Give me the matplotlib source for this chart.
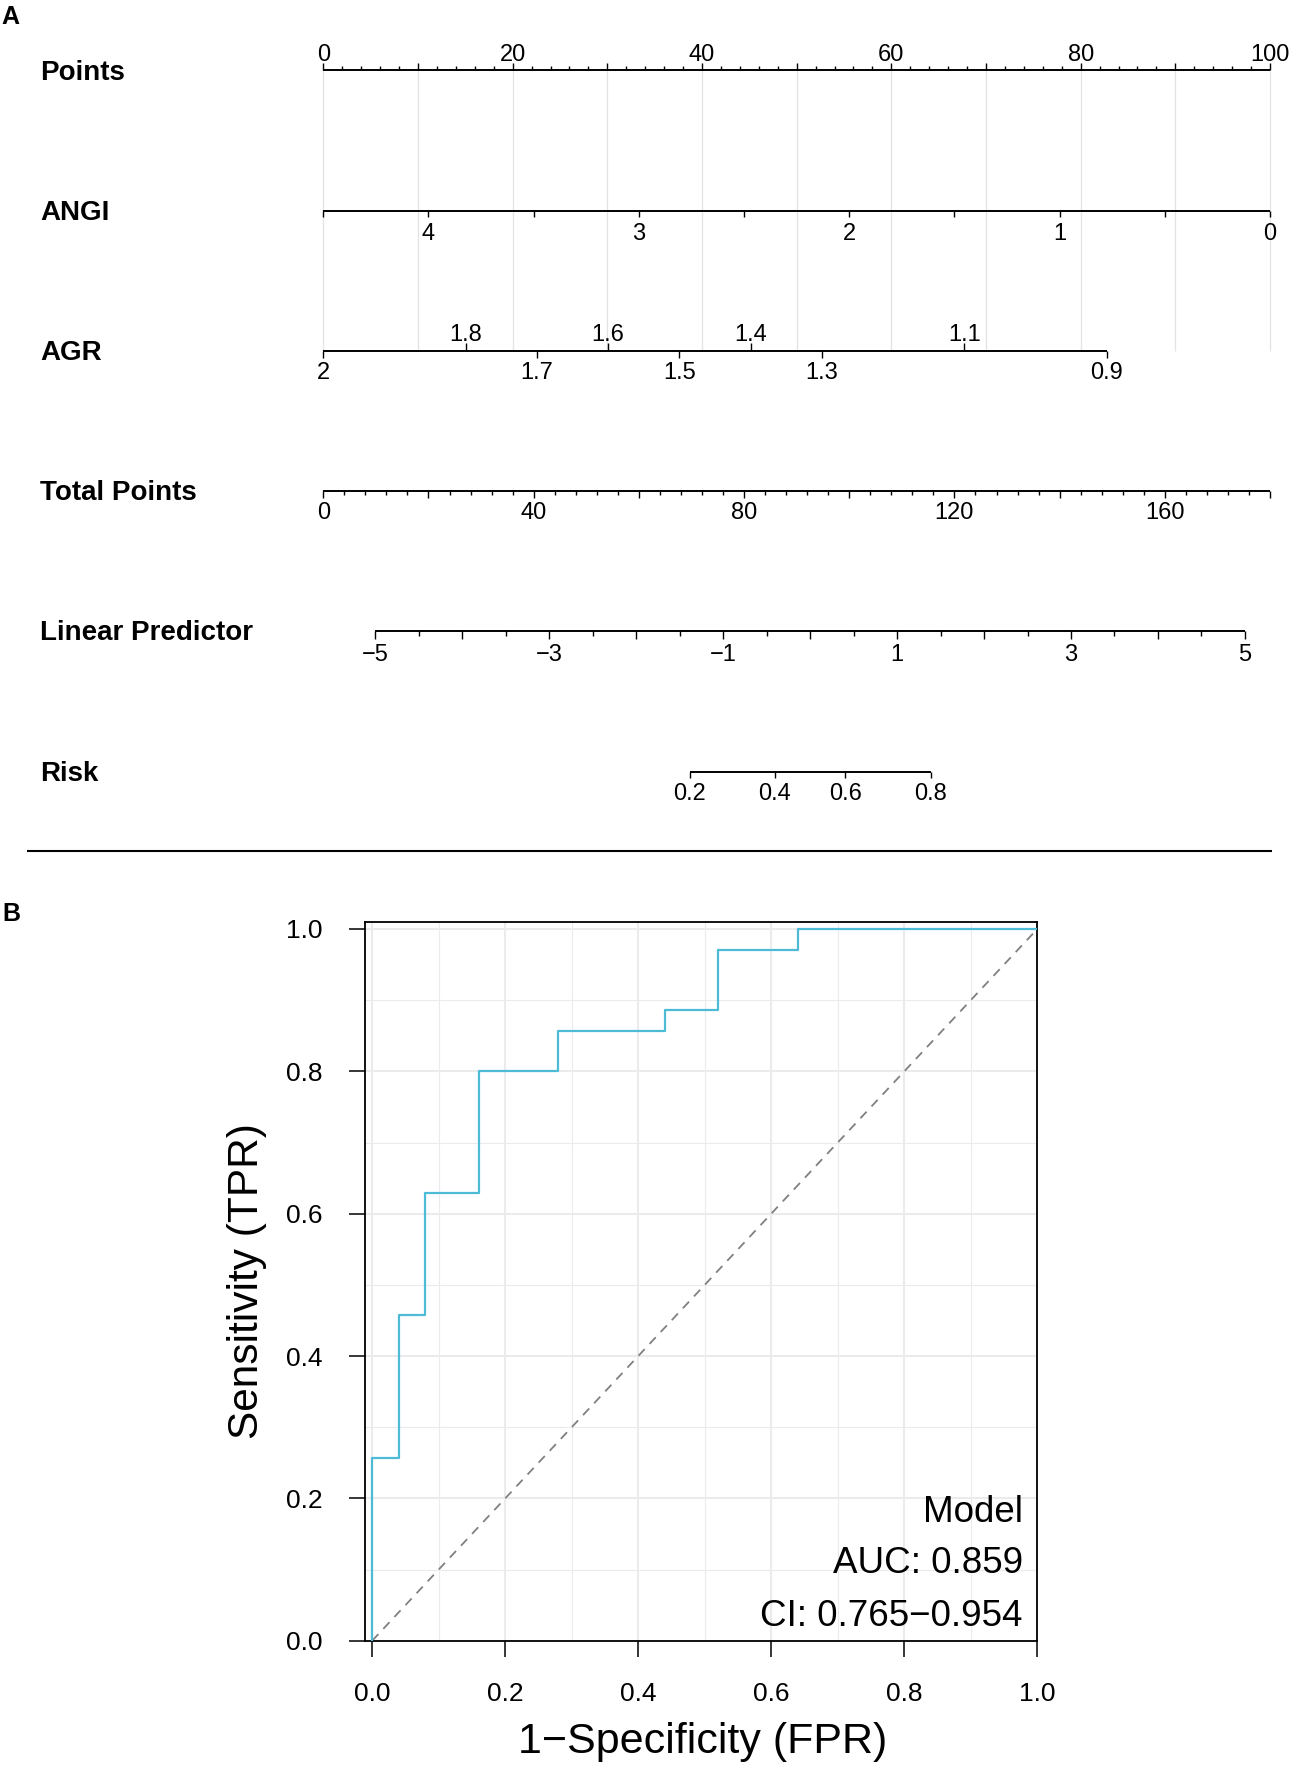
import numpy as np
import matplotlib
matplotlib.use('Agg')
import matplotlib.pyplot as plt

plt.rcParams['font.family'] = ['Liberation Sans', 'DejaVu Sans']

# ------------------------- data: nomogram model -------------------------
row_names = ['Points', 'ANGI', 'AGR', 'Total Points', 'Linear Predictor', 'Risk']
coef_intercept = 9.55
coef_angi = -1.344
coef_agr = -4.55
angi_range = [0.0, 4.5]
agr_range = [0.9, 2.0]

points_major = [0, 10, 20, 30, 40, 50, 60, 70, 80, 90, 100]
points_minor = [2, 4, 6, 8, 12, 14, 16, 18, 22, 24, 26, 28, 32, 34, 36, 38, 42, 44, 46, 48,
                52, 54, 56, 58, 62, 64, 66, 68, 72, 74, 76, 78, 82, 84, 86, 88, 92, 94, 96, 98]
points_labels = [0, 20, 40, 60, 80, 100]

angi_ticks = [4.5, 4, 3.5, 3, 2.5, 2, 1.5, 1, 0.5, 0]
angi_labels = [4, 3, 2, 1, 0]

agr_labels_above = [1.8, 1.6, 1.4, 1.1]
agr_labels_below = [2, 1.7, 1.5, 1.3, 0.9]

total_max = 180
total_major = [0, 20, 40, 60, 80, 100, 120, 140, 160, 180]
total_minor = [4, 8, 12, 16, 24, 28, 32, 36, 44, 48, 52, 56, 64, 68, 72, 76, 84, 88, 92, 96,
               104, 108, 112, 116, 124, 128, 132, 136, 144, 148, 152, 156, 164, 168, 172, 176]
total_labels = [0, 40, 80, 120, 160]

lp_range = [-5, 5]
lp_major = [-5, -4, -3, -2, -1, 0, 1, 2, 3, 4, 5]
lp_minor = [-4.5, -3.5, -2.5, -1.5, -0.5, 0.5, 1.5, 2.5, 3.5, 4.5]
lp_labels = [-5, -3, -1, 1, 3, 5]

risk_ticks = [0.2, 0.4, 0.6, 0.8]
risk_labels = ['0.2', '0.4', '0.6', '0.8']

# ------------------------- data: ROC curve -------------------------
roc_fpr = [0.0, 0.0, 0.04, 0.08, 0.16, 0.28, 0.44, 0.52, 0.64, 1.0]
roc_tpr = [0.0, 0.257, 0.457, 0.629, 0.800, 0.857, 0.886, 0.971, 1.0, 1.0]
roc_ticks = [0.0, 0.2, 0.4, 0.6, 0.8, 1.0]
roc_minor = [0.1, 0.3, 0.5, 0.7, 0.9]
roc_text = ['Model', 'AUC: 0.859', 'CI: 0.765\u22120.954']
roc_color = '#4DBBD5'

# ------------------------- scale functions -------------------------
c_angi = coef_angi * np.array(angi_range)
c_agr = coef_agr * np.array(agr_range)
min_angi, min_agr = c_angi.min(), c_agr.min()
pts_per_lp = 100.0 / max(np.ptp(c_angi), np.ptp(c_agr))
lp_at_zero = coef_intercept + min_angi + min_agr


def x_points(p):
    return np.asarray(p, dtype=float)


def x_angi(v):
    return (coef_angi * np.asarray(v, dtype=float) - min_angi) * pts_per_lp


def x_agr(v):
    return (coef_agr * np.asarray(v, dtype=float) - min_agr) * pts_per_lp


def x_total(tp):
    return np.asarray(tp, dtype=float) * 100.0 / total_max


def x_lp(lp):
    return x_total((np.asarray(lp, dtype=float) - lp_at_zero) * pts_per_lp)


def x_risk(p):
    p = np.asarray(p, dtype=float)
    return x_lp(np.log(p / (1 - p)))


def fmt(v):
    s = ('%g' % v)
    return s.replace('-', '\u2212')


# ------------------------- figure -------------------------
W, H = 1296, 1767
fig = plt.figure(figsize=(W / 100, H / 100), dpi=100)
fig.patch.set_facecolor('white')

PX0 = 323.3          # pixel x of 0 points
PX_PER_PT = 9.467    # pixels per point
axn = fig.add_axes([0, 0, 1, 1])
axn.set_xlim(-PX0 / PX_PER_PT, (W - PX0) / PX_PER_PT)
axn.set_ylim(H, 0)
axn.axis('off')

row_y = [70.3, 211.0, 350.7, 490.7, 630.7, 771.7]
LW_AX = 1.4
LW_TK = 1.0
TICK_FS = 17
lab_col = 'black'

# vertical light grid
axn.vlines(x_points(points_major), row_y[0], row_y[2], color='#E3E3E3', lw=0.9, zorder=1)

# row labels
for name, y in zip(row_names, row_y):
    axn.text(-PX0 / PX_PER_PT + 40 / PX_PER_PT, y + 9.5, name, fontsize=20,
             fontweight='bold', ha='left', va='baseline', color=lab_col)


def axis_line(x0, x1, y):
    axn.plot([x0, x1], [y, y], color='black', lw=LW_AX, solid_capstyle='butt', zorder=3)


def ticks(xs, y, length):
    axn.vlines(xs, y, y + length, color='black', lw=LW_TK, zorder=3)


# Points
y = row_y[0]
axis_line(x_points(0), x_points(100), y)
ticks(x_points(points_major), y, -7.7)
ticks(x_points(points_minor), y, -4.0)
for v in points_labels:
    axn.text(x_points(v), y - 9.3, fmt(v), fontsize=TICK_FS, ha='center', va='baseline')

# ANGI
y = row_y[1]
axis_line(x_angi(angi_range[1]), x_angi(angi_range[0]), y)
ticks(x_angi(angi_ticks), y, 6.3)
for v in angi_labels:
    axn.text(x_angi(v), y + 11.5, fmt(v), fontsize=TICK_FS, ha='center', va='top')

# AGR
y = row_y[2]
axis_line(x_agr(agr_range[1]), x_agr(agr_range[0]), y)
ticks(x_agr(agr_labels_above), y, -7.3)
ticks(x_agr(agr_labels_below), y, 7.3)
for v in agr_labels_above:
    axn.text(x_agr(v), y - 10.0, fmt(v), fontsize=TICK_FS, ha='center', va='baseline')
for v in agr_labels_below:
    axn.text(x_agr(v), y + 11.0, fmt(v), fontsize=TICK_FS, ha='center', va='top')

# Total points
y = row_y[3]
axis_line(x_total(0), x_total(total_max), y)
ticks(x_total(total_major), y, 7.7)
ticks(x_total(total_minor), y, 4.3)
for v in total_labels:
    axn.text(x_total(v), y + 11.0, fmt(v), fontsize=TICK_FS, ha='center', va='top')

# Linear predictor
y = row_y[4]
axis_line(x_lp(lp_range[0]), x_lp(lp_range[1]), y)
ticks(x_lp(lp_major), y, 8.3)
ticks(x_lp(lp_minor), y, 5.0)
for v in lp_labels:
    axn.text(x_lp(v), y + 13.0, fmt(v), fontsize=TICK_FS, ha='center', va='top')

# Risk
y = row_y[5]
axis_line(x_risk(risk_ticks[0]), x_risk(risk_ticks[-1]), y)
ticks(x_risk(risk_ticks), y, 6.7)
for v, s in zip(risk_ticks, risk_labels):
    axn.text(x_risk(v), y + 11.5, s, fontsize=TICK_FS, ha='center', va='top')

# panel letters and separator
px2x = lambda px: (px - PX0) / PX_PER_PT
axn.text(px2x(1), 24, 'A', fontsize=18, fontweight='bold', ha='left', va='baseline')
axn.text(px2x(2), 921, 'B', fontsize=18, fontweight='bold', ha='left', va='baseline')
axn.plot([px2x(26.7), px2x(1272)], [850.7, 850.7], color='black', lw=1.5,
         solid_capstyle='butt')

# ------------------------- ROC panel -------------------------
L, R, T, B = 365.3, 1037.3, 922.3, 1640.7
axr = fig.add_axes([L / W, 1 - B / H, (R - L) / W, (B - T) / H])
axr.set_xlim(-0.0104, 1.0)
axr.set_ylim(0.0, 1.0094)
axr.set_xticks(roc_ticks)
axr.set_yticks(roc_ticks)
axr.set_xticks(roc_minor, minor=True)
axr.set_yticks(roc_minor, minor=True)
axr.set_xticklabels(['%.1f' % v for v in roc_ticks])
axr.set_yticklabels(['%.1f' % v for v in roc_ticks])
axr.grid(True, which='major', color='#EBEBEB', lw=1.5, zorder=0)
axr.grid(True, which='minor', color='#EBEBEB', lw=0.8, zorder=0)
axr.set_axisbelow(True)
axr.tick_params(which='major', length=11.5, width=1.1, pad=18, labelsize=19, color='black')
axr.tick_params(axis='y', which='major', pad=19)
axr.tick_params(which='minor', length=0)
for sp in axr.spines.values():
    sp.set_color('black')
    sp.set_linewidth(1.3)

axr.plot([0, 1], [0, 1], color='#808080', lw=1.3, ls=(0, (5, 4)), zorder=2)
axr.plot(roc_fpr, roc_tpr, drawstyle='steps-post', color=roc_color, lw=1.6, zorder=3)

for i, s in enumerate(roc_text):
    yb = [1521.7, 1573.3, 1625.7][i]
    axr.text((1023 - L) / (R - L), (B - yb) / (B - T), s, transform=axr.transAxes,
             fontsize=26.5, ha='right', va='baseline')

fig.text(703 / W, 1 - 1753 / H, '1\u2212Specificity (FPR)', fontsize=31,
         ha='center', va='baseline')
fig.text(247 / W, 1 - 1281.5 / H, 'Sensitivity (TPR)', fontsize=30.5, rotation=90,
         ha='center', va='center')

fig.savefig('out.png', dpi=100, facecolor='white')
